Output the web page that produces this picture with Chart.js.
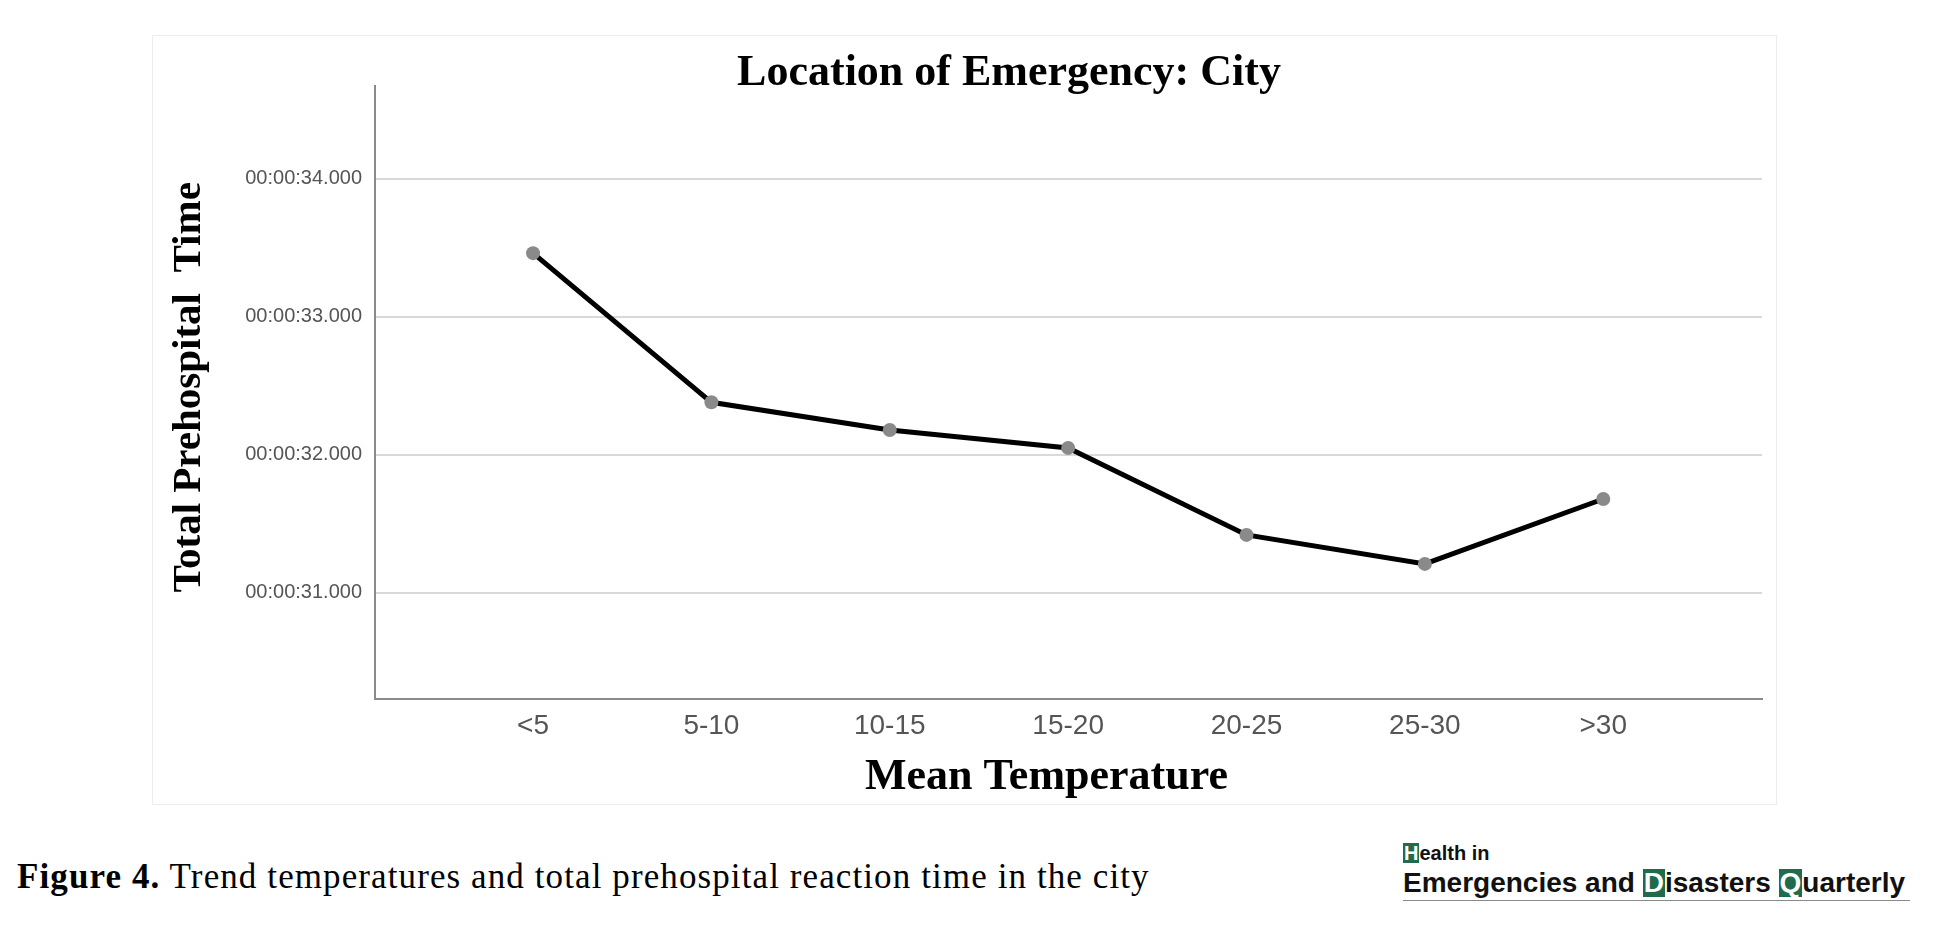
<!DOCTYPE html>
<html>
<head>
<meta charset="utf-8">
<script src="https://cdn.jsdelivr.net/npm/chart.js@4.4.1/dist/chart.umd.min.js"></script>
<style>
  html, body { margin: 0; padding: 0; background: #fff; }
  body { width: 1951px; height: 949px; position: relative; overflow: hidden; }
  #frame {
    position: absolute; left: 152px; top: 35px; width: 1625px; height: 770px;
    border: 1px solid #ededed; box-sizing: border-box;
  }
  #title {
    position: absolute; left: 609px; top: 49px; width: 800px; text-align: center;
    font: bold 44px/1 "Liberation Serif", serif; color: #000; white-space: nowrap;
  }
  #caption {
    position: absolute; left: 17px; top: 859px;
    font: 35px/1 "Liberation Serif", serif; letter-spacing: 1.1px; color: #000; white-space: nowrap;
  }
  #logo { position: absolute; left: 1403px; top: 843px; width: 507px; }
  #logo .small { font: bold 20px/1 "Liberation Sans", sans-serif; color: #111; }
  #logo .big { font: bold 28px/1 "Liberation Sans", sans-serif; color: #111; margin-top: 6px; white-space: nowrap; }
  #logo .box { display: inline-block; background: #1f6b4b; color: #fff; padding: 0 1px; line-height: 1; }
  #logo .rule { border-top: 1px solid #8a8a8a; margin-top: 3px; }
</style>
</head>
<body>
<div id="frame"><canvas id="chartEl"></canvas></div>
<div id="title">Location of Emergency: City</div>
<div id="caption"><b>Figure 4.</b> Trend temperatures and total prehospital reaction time in the city</div>
<div id="logo">
  <div class="small"><span class="box">H</span>ealth in</div>
  <div class="big">Emergencies and <span class="box">D</span>isasters <span class="box">Q</span>uarterly</div>
  <div class="rule"></div>
</div>
<script>
// mean temperature groups and mean total prehospital time (seconds)
const categories = ['<5', '5-10', '10-15', '15-20', '20-25', '25-30', '>30']
const prehospitalSeconds = [33.46, 32.38, 32.18, 32.05, 31.42, 31.21, 31.68]
const yTickValues = [31, 32, 33, 34]

const points = categories.map((c, i) => ({ x: i, y: prehospitalSeconds[i] }))

const ctx = document.getElementById('chartEl').getContext('2d')
const chart = new Chart(ctx, {
  type: 'line',
  data: {
    datasets: [
      {
        data: points,
        borderColor: '#000',
        borderWidth: 5,
        tension: 0,
        pointRadius: 7,
        pointBorderWidth: 0,
        pointBackgroundColor: '#8a8a8a'
      }
    ]
  },
  options: {
    responsive: true,
    maintainAspectRatio: false,
    devicePixelRatio: 1,
    animation: false,
    layout: { padding: { left: 12, right: 14, top: 50, bottom: 0 } },
    plugins: {
      legend: { display: false },
      title: { display: false },
      tooltip: { enabled: false }
    },
    scales: {
      x: {
        type: 'linear',
        min: -0.886,
        max: 6.89,
        afterBuildTicks: function (scale) {
          scale.ticks = categories.map((c, i) => ({ value: i }))
        },
        afterFit: function (scale) { scale.height = 105 },
        grid: { display: false, drawTicks: false },
        border: { display: true, color: '#8a8a8a', width: 2 },
        ticks: {
          padding: 10,
          color: '#555',
          font: { family: 'Liberation Sans', size: 28 },
          callback: function (value) { return categories[value] }
        },
        title: {
          display: true,
          // trailing spaces nudge the title left like the original
          text: 'Mean Temperature    ',
          color: '#000',
          padding: 0,
          font: { family: 'Liberation Serif', size: 44, weight: 'bold' }
        }
      },
      y: {
        min: 30.232,
        max: 34.67,
        afterBuildTicks: function (scale) {
          scale.ticks = yTickValues.map(v => ({ value: v }))
        },
        afterFit: function (scale) { scale.width = 210 },
        grid: { color: '#d9d9d9', lineWidth: 2, drawTicks: false },
        border: { display: true, color: '#8a8a8a', width: 2 },
        ticks: {
          padding: 13,
          color: '#555',
          font: { family: 'Liberation Sans', size: 20 },
          callback: function (value) { return '00:00:' + value + '.000' }
        },
        title: {
          display: true,
          text: ' Total Prehospital  Time',
          color: '#000',
          padding: 0,
          font: { family: 'Liberation Serif', size: 41, weight: 'bold' }
        }
      }
    }
  }
})
</script>
</body>
</html>
